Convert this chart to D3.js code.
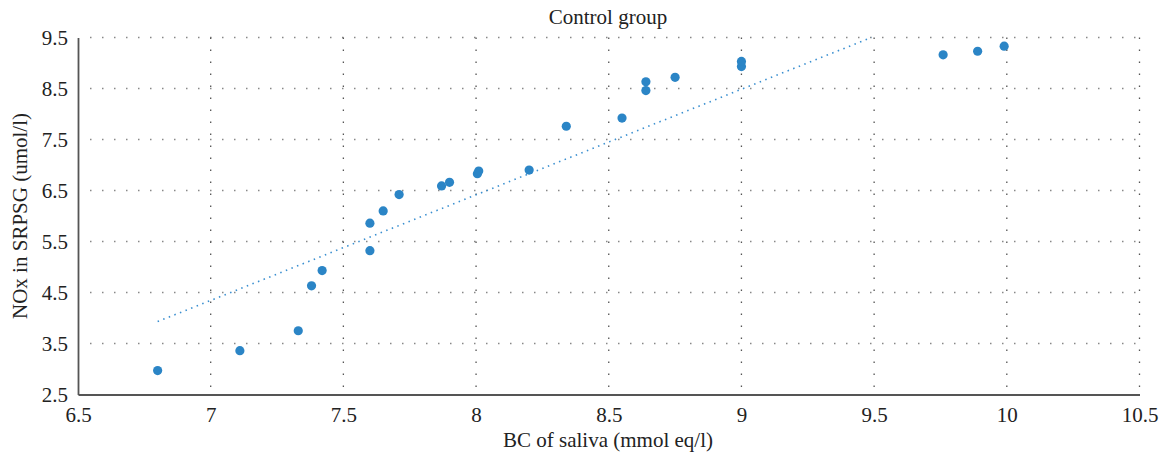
<!DOCTYPE html>
<html><head><meta charset="utf-8">
<script src="https://cdn.jsdelivr.net/npm/d3@7"></script>
<style>
html,body{margin:0;padding:0;background:#fff;}
text{font-family:"Liberation Serif","Times New Roman",serif;fill:#222;}
</style></head>
<body>
<svg id="chart" width="1165" height="460"></svg>
<script>
const title = "Control group";
const xLabel = "BC of saliva (mmol eq/l)";
const yLabel = "NOx in SRPSG (umol/l)";
const xTicks = [6.5, 7, 7.5, 8, 8.5, 9, 9.5, 10, 10.5];
const yTicks = [2.5, 3.5, 4.5, 5.5, 6.5, 7.5, 8.5, 9.5];
const bcSaliva = [6.80, 7.11, 7.33, 7.38, 7.42, 7.60, 7.60, 7.65, 7.71, 7.87, 7.90, 8.005, 8.01, 8.20, 8.34, 8.55, 8.64, 8.64, 8.75, 9.00, 9.00, 9.76, 9.89, 9.99];
const noxSRPSG = [2.97, 3.36, 3.75, 4.63, 4.93, 5.32, 5.86, 6.10, 6.42, 6.59, 6.66, 6.83, 6.88, 6.90, 7.76, 7.92, 8.46, 8.63, 8.72, 8.93, 9.03, 9.16, 9.23, 9.33];
const trendX = [6.80, 9.49];
const trendY = [3.93, 9.50];

const svg = d3.select("#chart");
const m = {left:78, right:1139.5, top:37.5, bottom:394.5};
const x = d3.scaleLinear().domain([6.5, 10.5]).range([m.left, m.right]);
const y = d3.scaleLinear().domain([2.5, 9.5]).range([m.bottom, m.top]);
const dotBlue = "#2b85c6";

// horizontal gridlines
svg.append("g").selectAll("line").data(yTicks.filter(d => d > 2.5)).join("line")
  .attr("x1", m.left + 12).attr("x2", m.right)
  .attr("y1", d => y(d)).attr("y2", d => y(d))
  .attr("stroke", "#888").attr("stroke-width", 1.5)
  .attr("stroke-dasharray", "1.5,10.5");
// vertical gridlines
svg.append("g").selectAll("line").data(xTicks.filter(d => d > 6.5)).join("line")
  .attr("x1", d => x(d)).attr("x2", d => x(d))
  .attr("y1", m.top).attr("y2", m.bottom - 6)
  .attr("stroke", "#555").attr("stroke-width", 1.3)
  .attr("stroke-dasharray", "1.5,10.5");

// axes
const xAxis = d3.axisBottom(x).tickValues(xTicks).tickSize(0).tickPadding(13).tickFormat(d3.format("~g"));
const gx = svg.append("g").attr("transform", `translate(0,${m.bottom})`).call(xAxis);
gx.select(".domain").attr("stroke", "#555").attr("stroke-width", 1.8);
gx.selectAll("text").attr("font-size", 21).attr("font-family", "Liberation Serif").attr("fill", "#222");

const yAxis = d3.axisLeft(y).tickValues(yTicks).tickSize(0).tickPadding(10).tickFormat(d3.format(".1f"));
const gy = svg.append("g").attr("transform", `translate(${m.left},0)`).call(yAxis);
gy.select(".domain").attr("stroke", "#555").attr("stroke-width", 1.8);
gy.selectAll("text").attr("font-size", 21).attr("font-family", "Liberation Serif").attr("fill", "#222");

// trend line
svg.append("path")
  .datum(trendX.map((d, i) => [d, trendY[i]]))
  .attr("d", d3.line().x(d => x(d[0])).y(d => y(d[1])))
  .attr("fill", "none").attr("stroke", "#3a8fd0").attr("stroke-width", 1.6)
  .attr("stroke-dasharray", "1.5,4.5");

// points
svg.append("g").selectAll("circle").data(bcSaliva.map((d, i) => [d, noxSRPSG[i]])).join("circle")
  .attr("cx", d => x(d[0])).attr("cy", d => y(d[1])).attr("r", 4.6)
  .attr("fill", dotBlue);

// labels
svg.append("text").attr("x", 608).attr("y", 24).attr("text-anchor", "middle")
  .attr("font-size", 21).text(title);
svg.append("text").attr("x", 608).attr("y", 447).attr("text-anchor", "middle")
  .attr("font-size", 21).text(xLabel);
svg.append("text").attr("transform", `translate(27,${(m.top + m.bottom) / 2}) rotate(-90)`)
  .attr("text-anchor", "middle").attr("font-size", 21).text(yLabel);
</script>
</body></html>
